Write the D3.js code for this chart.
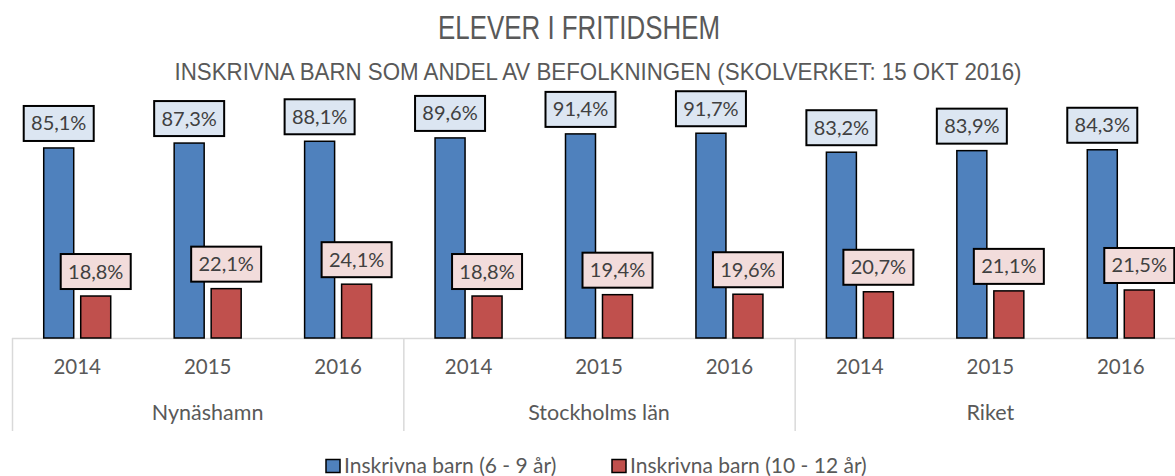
<!DOCTYPE html>
<html><head><meta charset="utf-8">
<script src="https://cdn.jsdelivr.net/npm/d3@7"></script>
<style>body{margin:0;background:#fff}svg{display:block}text{font-family:Lato,"Open Sans",sans-serif}</style>
</head><body><svg id="c" width="1175" height="476"></svg>
<script>
const groups = ["Nynäshamn", "Stockholms län", "Riket"];
const years = ["2014", "2015", "2016"];
const seriesNames = ["Inskrivna barn (6 - 9 år)", "Inskrivna barn (10 - 12 år)"];
const young = [85.1, 87.3, 88.1, 89.6, 91.4, 91.7, 83.2, 83.9, 84.3];
const older = [18.8, 22.1, 24.1, 18.8, 19.4, 19.6, 20.7, 21.1, 21.5];
const title = "ELEVER I FRITIDSHEM";
const subtitle = "INSKRIVNA BARN SOM ANDEL AV BEFOLKNINGEN (SKOLVERKET: 15 OKT 2016)";

const colors = ["#4f81bd", "#c0504d"];
const labelFill = ["#dce6f2", "#f2dcdb"];
const svg = d3.select("#c");
const cats = [];
groups.forEach(g => years.forEach(y => cats.push(g + "|" + y)));
const rows = cats.map((c, i) => ({cat: c, vals: [young[i], older[i]]}));

const x = d3.scaleBand().domain(cats).range([12, 1186]);
const cw = x.bandwidth();
const xs = d3.scaleBand().domain([0, 1]).range([cw / 2 - 33.5, cw / 2 + 33.5]).paddingInner(7 / 37);
const y = d3.scaleLinear().domain([0, 100]).range([338, 338 - 223.3]);

svg.append("text").attr("x", 579).attr("y", 39).attr("text-anchor", "middle")
  .style("font-family", "'Liberation Sans Narrow','Liberation Sans',sans-serif")
  .attr("font-size", 33).attr("fill", "#595959").attr("textLength", 282).attr("lengthAdjust", "spacingAndGlyphs").text(title);
svg.append("text").attr("x", 598).attr("y", 80).attr("text-anchor", "middle")
  .style("font-family", "'Liberation Sans Narrow','Liberation Sans',sans-serif")
  .attr("font-size", 24).attr("fill", "#595959").attr("textLength", 847).attr("lengthAdjust", "spacingAndGlyphs").text(subtitle);

// axis
svg.append("line").attr("x1", 12).attr("x2", 1175).attr("y1", 338.5).attr("y2", 338.5).attr("stroke", "#d9d9d9").attr("stroke-width", 1.5);
groups.forEach((g, gi) => {
  const x0 = x(g + "|" + years[0]);
  svg.append("line").attr("x1", x0 + 0.5).attr("x2", x0 + 0.5).attr("y1", 338).attr("y2", 431).attr("stroke", "#d9d9d9").attr("stroke-width", 1.5);
  const xe = x(g + "|" + years[2]) + cw;
  svg.append("text").attr("x", (x0 + xe) / 2).attr("y", 420).attr("text-anchor", "middle")
    .attr("font-size", 21.5).attr("fill", "#595959").text(g);
});
rows.forEach(r => {
  svg.append("text").attr("x", x(r.cat) + cw / 2).attr("y", 374).attr("text-anchor", "middle")
    .attr("font-size", 20.5).attr("fill", "#595959").text(r.cat.split("|")[1]);
});

// bars
const gCat = svg.selectAll("g.cat").data(rows).join("g").attr("class", "cat")
  .attr("transform", d => `translate(${x(d.cat)},0)`);
gCat.selectAll("rect.bar").data(d => d.vals.map((v, i) => ({v, i}))).join("rect")
  .attr("class", "bar")
  .attr("x", d => xs(d.i)).attr("width", xs.bandwidth())
  .attr("y", d => y(d.v)).attr("height", d => y(0) - y(d.v))
  .attr("fill", d => colors[d.i]).attr("stroke", "#000").attr("stroke-width", 1.5);

// labels
const lab = gCat.selectAll("g.lab").data(d => d.vals.map((v, i) => ({v, i}))).join("g").attr("class", "lab")
  .attr("transform", d => `translate(${xs(d.i) + xs.bandwidth() / 2},${y(d.v) - 7})`);
lab.append("rect").attr("x", -35).attr("y", -35).attr("width", 70).attr("height", 35)
  .attr("fill", d => labelFill[d.i]).attr("stroke", "#000").attr("stroke-width", 2);
lab.append("text").attr("x", 0).attr("y", -10.5).attr("text-anchor", "middle")
  .attr("font-size", 20).attr("fill", "#404040")
  .text(d => d.v.toFixed(1).replace(".", ",") + "%");

// legend
const legX = [326, 612];
seriesNames.forEach((s, i) => {
  svg.append("rect").attr("x", legX[i]).attr("y", 459.5).attr("width", 14).attr("height", 13)
    .attr("fill", colors[i]).attr("stroke", "#000").attr("stroke-width", 1.5);
  svg.append("text").attr("x", legX[i] + 18).attr("y", 473).attr("font-size", 21).attr("fill", "#595959").text(s);
});
</script></body></html>
